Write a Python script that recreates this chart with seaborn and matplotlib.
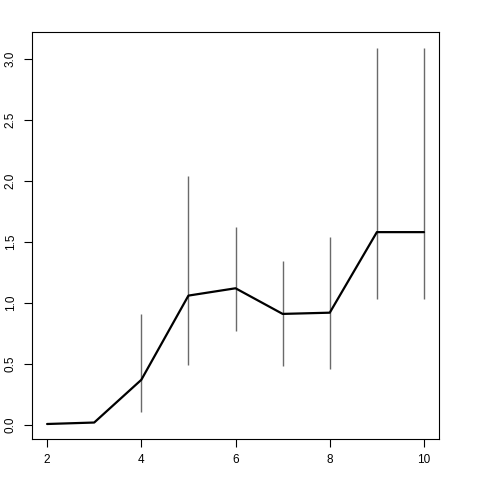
import numpy as np
import pandas as pd
import seaborn as sns
import matplotlib
matplotlib.use('Agg')
import matplotlib.pyplot as plt

# values
age = [2, 3, 4, 5, 6, 7, 8, 9, 10]
mean_val = [0.008, 0.02, 0.37, 1.06, 1.12, 0.91, 0.92, 1.58, 1.58]
lower = [np.nan, np.nan, 0.11, 0.49, 0.77, 0.48, 0.46, 1.03, 1.03]
upper = [np.nan, np.nan, 0.91, 2.04, 1.62, 1.34, 1.54, 3.09, 3.09]

df = pd.DataFrame({'Age': age, 'mean': mean_val, 'lo': lower, 'hi': upper})

sns.set_style('white')
plt.rcParams['font.family'] = ['Liberation Sans', 'DejaVu Sans']

fig = plt.figure(figsize=(4.8, 4.8), dpi=100)
ax = fig.add_axes([0.0667, 0.0854, 0.848, 0.848])

eb = df.dropna()
ax.vlines(eb['Age'], eb['lo'], eb['hi'], color='#6a6a6a', linewidth=1.0)
sns.lineplot(data=df, x='Age', y='mean', color='black', linewidth=1.6, ax=ax)

ax.set_xlim(1.68, 10.32)
ax.set_ylim(-0.115, 3.22)
ax.set_xticks([2, 4, 6, 8, 10])
ax.set_yticks([0.0, 0.5, 1.0, 1.5, 2.0, 2.5, 3.0])
ax.set_yticklabels(['0.0', '0.5', '1.0', '1.5', '2.0', '2.5', '3.0'], rotation=90, va='center')
ax.tick_params(direction='out', length=6, width=0.8, labelsize=8.5, pad=5,
               bottom=True, left=True, colors='black')
ax.set_xlabel('Age', fontsize=9, labelpad=16)
ax.set_ylabel('')
for s in ax.spines.values():
    s.set_color('black')
    s.set_linewidth(0.8)

fig.savefig('out.png', dpi=100)
